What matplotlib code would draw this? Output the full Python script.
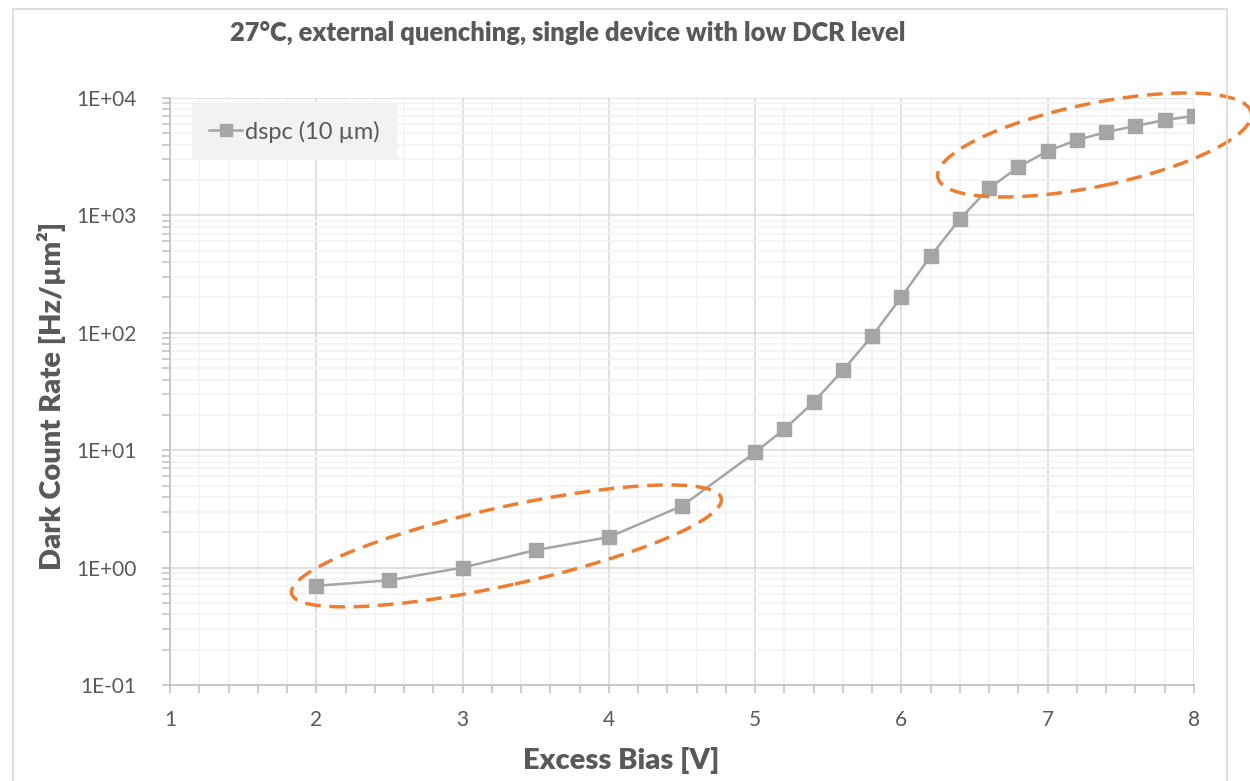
import matplotlib
matplotlib.use("Agg")
import matplotlib.pyplot as plt
import matplotlib.ticker as mticker
import matplotlib.transforms as mtransforms
from matplotlib.patches import Ellipse, Rectangle

# data
bias = [2.0, 2.5, 3.0, 3.5, 4.0, 4.5, 5.0, 5.2, 5.4, 5.6, 5.8, 6.0,
        6.2, 6.4, 6.6, 6.8, 7.0, 7.2, 7.4, 7.6, 7.8, 8.0]
dcr = [0.70, 0.78, 1.0, 1.41, 1.82, 3.35, 9.6, 15.1, 25.7, 48, 94, 202,
       451, 933, 1710, 2580, 3540, 4390, 5130, 5780, 6500, 7030]
series_name = "dspc (10 µm)"
title = "27°C, external quenching, single device with low DCR level"
xlabel = "Excess Bias [V]"
ylabel = "Dark Count Rate [Hz/µm²]"

TXT = "#595959"
GRAY = "#A5A5A5"
ORANGE = "#ED7D31"

plt.rcParams["font.family"] = ["Lato", "DejaVu Sans"]

fig = plt.figure(figsize=(12.5, 7.81), dpi=100)
ax = fig.add_axes([0.136, 0.1229, 0.8192, 0.7516])

ax.plot(bias, dcr, color=GRAY, lw=1.8, marker="s", ms=9.5,
        mfc=GRAY, mec=GRAY, label=series_name, zorder=3)

ax.set_yscale("log")
ax.set_xlim(1, 8)
ax.set_ylim(0.1, 1e4)

ax.xaxis.set_major_locator(mticker.MultipleLocator(1))
ax.xaxis.set_minor_locator(mticker.MultipleLocator(0.2))
ax.yaxis.set_major_locator(mticker.LogLocator(base=10))
ax.yaxis.set_minor_locator(mticker.LogLocator(base=10, subs=range(2, 10)))
ax.yaxis.set_minor_formatter(mticker.NullFormatter())
ax.yaxis.set_major_formatter(mticker.FuncFormatter(lambda v, p: f"{v:.0E}"))

ax.grid(which="major", color="#D9D9D9", lw=1.1)
ax.grid(which="minor", color="#F2F2F2", lw=1.1)
ax.set_axisbelow(True)

for s in ("top", "right"):
    ax.spines[s].set_visible(False)
for s in ("left", "bottom"):
    ax.spines[s].set_color("#BFBFBF")
    ax.spines[s].set_linewidth(1.1)

ax.tick_params(which="both", direction="out", color="#BFBFBF", width=1.1,
               labelcolor=TXT, labelsize=15)
ax.tick_params(axis="x", which="both", length=6, pad=12)
ax.tick_params(axis="y", which="both", length=6, pad=18)

ax.set_xlabel(xlabel, fontsize=21, fontweight="heavy", color=TXT)
ax.xaxis.set_label_coords(0.441, -0.105)
ax.set_ylabel(ylabel, fontsize=21, fontweight="heavy", color=TXT)
ax.yaxis.set_label_coords(-0.1016, 0.492)
fig.text(0.184, 0.958, title, fontsize=18.4, fontweight="heavy", color=TXT,
         ha="left", va="center")

leg = ax.legend(loc="upper left", bbox_to_anchor=(0.021, 0.992),
                frameon=True, fancybox=False, facecolor="#F2F2F2",
                edgecolor="none", framealpha=1, fontsize=17,
                labelcolor=TXT, handlelength=1.4, handletextpad=0.1,
                borderpad=0.75, borderaxespad=0, markerscale=0.85)

# orange dashed highlight ellipses (size in inches, centre in data units)
for cx, cy, w, h, ang in [(3.30, 1.53, 4.40, 0.78, 12.5),
                          (7.32, 3980, 3.20, 0.83, 11.7)]:
    tr = fig.dpi_scale_trans + mtransforms.ScaledTranslation(cx, cy, ax.transData)
    ax.add_patch(Ellipse((0, 0), w, h, angle=ang, transform=tr, fill=False,
                         edgecolor=ORANGE, lw=2.5, linestyle=(0, (4.5, 2.5)),
                         clip_on=False, zorder=5))

# outer chart border
fig.patches.append(Rectangle((13 / 1250, -0.05), 1214 / 1250, 1.05 - 9 / 781,
                             transform=fig.transFigure, fill=False,
                             edgecolor="#D9D9D9", lw=1.2))

fig.savefig("out.png", dpi=100)
